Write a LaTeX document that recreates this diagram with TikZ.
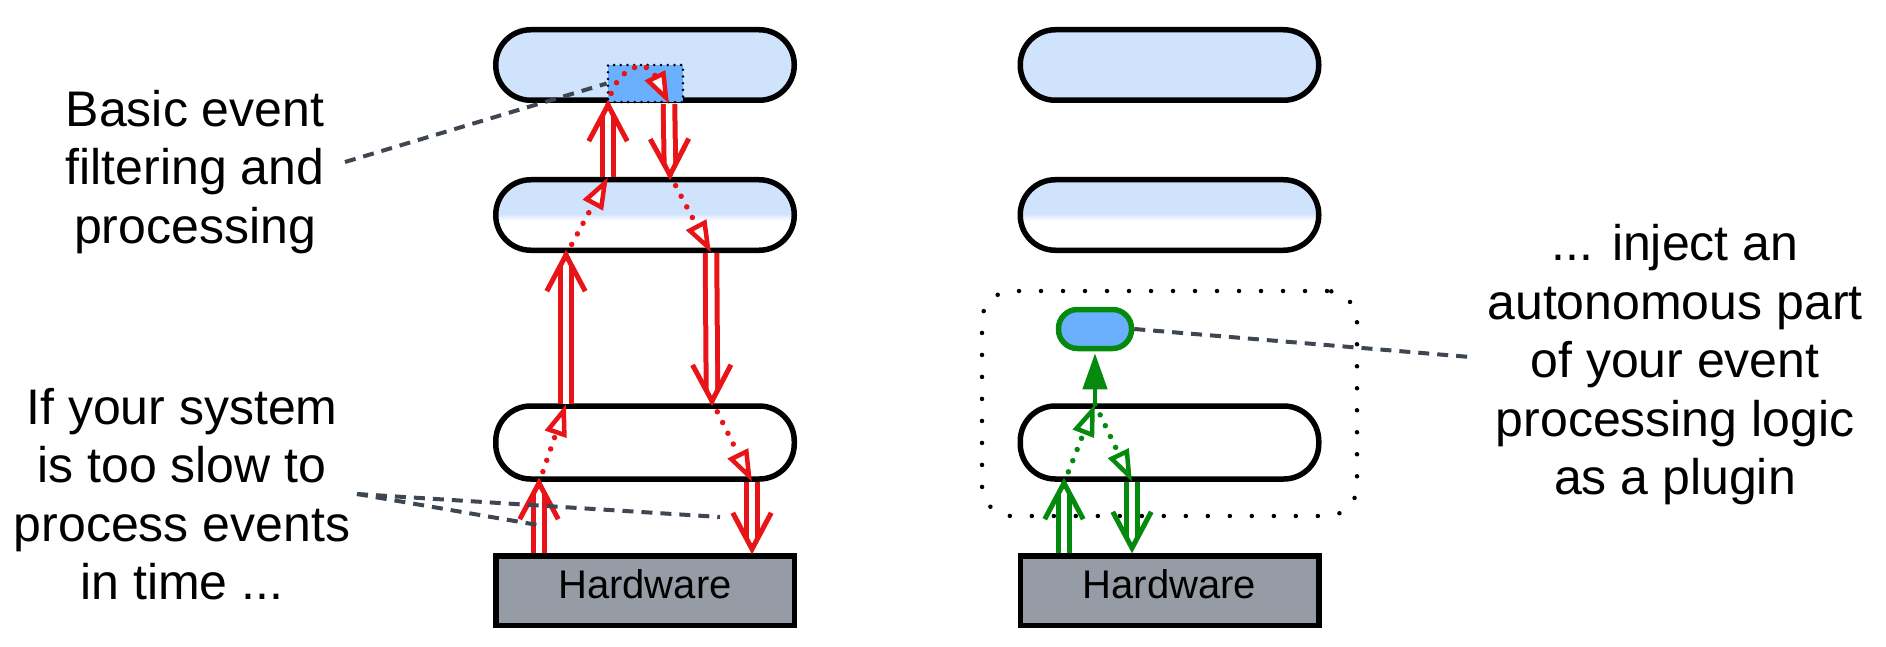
\documentclass[tikz,border=0pt]{standalone}
\usepackage{fontspec}
\setmainfont{Liberation Sans}
\usetikzlibrary{arrows.meta,calc}
\definecolor{lblue}{RGB}{207,227,252}
\definecolor{mblue}{RGB}{106,176,255}
\definecolor{hwgray}{RGB}{150,156,166}
\definecolor{ared}{RGB}{232,20,24}
\definecolor{agreen}{RGB}{6,138,14}
\definecolor{dashcol}{RGB}{62,70,82}
\pgfdeclareverticalshading{halfblue}{100bp}{color(0bp)=(white); color(46bp)=(white); color(51bp)=(lblue); color(100bp)=(lblue)}
\newcommand\dblarrow[3]{%
  \draw[dblline=#1] (#2) -- (#3);
  \draw[draw=#1, line width=5pt, line join=miter, miter limit=10]
    ($(#3)!41pt!28:(#2)$) -- (#3) -- ($(#3)!41pt!-28:(#2)$);}
\begin{document}
\begin{tikzpicture}[x=1pt,y=-1pt,
  layer/.style={draw=black, line width=5.5pt, rounded corners=35pt, minimum width=298.5pt, minimum height=70.5pt, inner sep=0pt},
  hwbox/.style={draw=black, line width=5.5pt, fill=hwgray, minimum width=298.5pt, minimum height=69.5pt, inner sep=0pt,
    font=\fontsize{40}{48}\selectfont, text height=22pt, text depth=7pt},
  txt/.style={font=\fontsize{50}{58.5}\selectfont, align=center, inner sep=0pt},
  dblline/.style={draw=#1, line width=5pt, double=white, double distance=6.5pt, shorten >=11pt},
  dotarr/.style={draw=#1, line width=5.5pt, line cap=round, dash pattern=on 0pt off 12pt,
    -{Triangle[fill=white, length=32pt, width=22pt, line width=4.5pt]}},
  leader/.style={draw=dashcol, line width=4pt, dash pattern=on 11pt off 8pt},
  encl/.style={draw=black, line width=4.5pt, line cap=round, dash pattern=on 0pt off 22pt, rounded corners=30pt,
    minimum width=375pt, minimum height=225pt, inner sep=0pt},
  filt/.style={draw=black, line width=2.8pt, line cap=round, dash pattern=on 0pt off 6.7pt, fill=mblue,
    minimum width=75pt, minimum height=37pt, inner sep=0pt},
  plug/.style={draw=agreen, line width=5.5pt, fill=mblue, rounded corners=19pt, minimum width=73pt, minimum height=39pt, inner sep=0pt}
]
\useasboundingbox (0,0) rectangle (1886,647);

% left column
\node[layer, fill=lblue] (L1) at (645,65) {};
\node[layer, shading=halfblue] (L2) at (645,215) {};
\node[layer, fill=white, minimum height=73pt] (L3) at (645,442.5) {};
\node[hwbox] (H1) at (645,590.5) {Hardware};
\node[filt] (FR) at (645.5,83.5) {};

% right column
\node[layer, fill=lblue] (R1) at (1169.5,65) {};
\node[layer, shading=halfblue] (R2) at (1169.5,215) {};
\node[encl] (EN) at (1169.5,403.5) {};
\node[layer, fill=white, minimum height=73pt] (R3) at (1169.5,442.5) {};
\node[hwbox] (H2) at (1169.5,590.5) {Hardware};
\node[plug] (P) at (1095,329) {};

% red path
\coordinate (r0) at (539,553);
\coordinate (r1) at (539,483);
\coordinate (r2) at (566,404);
\coordinate (r3) at (566,255);
\coordinate (r4) at (608,177);
\coordinate (r5) at (608,105);
\coordinate (r6) at (669,104);
\coordinate (r7) at (670,175);
\coordinate (r8) at (711,253);
\coordinate (r9) at (712,401);
\coordinate (r10) at (752,482);
\coordinate (r11) at (752,549);

\dblarrow{ared}{r0}{r1}
\draw[dotarr=ared] (r1) -- (r2);
\dblarrow{ared}{r2}{r3}
\draw[dotarr=ared] (r3) -- (r4);
\dblarrow{ared}{r4}{r5}
\draw[dotarr=ared] (r5) .. controls (614,70) and (645,55) .. (r6);
\dblarrow{ared}{r6}{r7}
\draw[dotarr=ared] (r7) -- (r8);
\dblarrow{ared}{r8}{r9}
\draw[dotarr=ared] (r9) -- (r10);
\dblarrow{ared}{r10}{r11}

% green path
\coordinate (g0) at (1064,553);
\coordinate (g1) at (1064,483);
\coordinate (g2) at (1095,404);
\coordinate (g3) at (1132,482);
\coordinate (g4) at (1132,548);
\dblarrow{agreen}{g0}{g1}
\draw[dotarr=agreen] (g1) -- (g2);
\draw[draw=agreen, line width=4.5pt, shorten >=2pt, -{Triangle[length=36pt, width=24pt]}] (g2) -- (P.south);
\draw[dotarr=agreen] (g2) -- (g3);
\dblarrow{agreen}{g3}{g4}

% texts
\node[txt] (T1) at (195,172) {Basic event\\filtering and\\processing};
\node[txt] (T2) at (182,494) {If your system\\is too slow to\\process events\\in time ...};
\node[txt] (T3) at (1675,365) {... inject an\\autonomous part\\of your event\\processing logic\\as a plugin};

% leaders
\coordinate (c1) at (345,162);
\coordinate (c2) at (357,494);
\coordinate (c2a) at (538,525);
\coordinate (c2b) at (720,517);
\coordinate (c3) at (1470,357);
\draw[leader] (c1) -- (FR.west);
\draw[leader] (c2) -- (c2a);
\draw[leader] (c2) -- (c2b);
\draw[leader] (P.east) -- (c3);
\end{tikzpicture}
\end{document}
